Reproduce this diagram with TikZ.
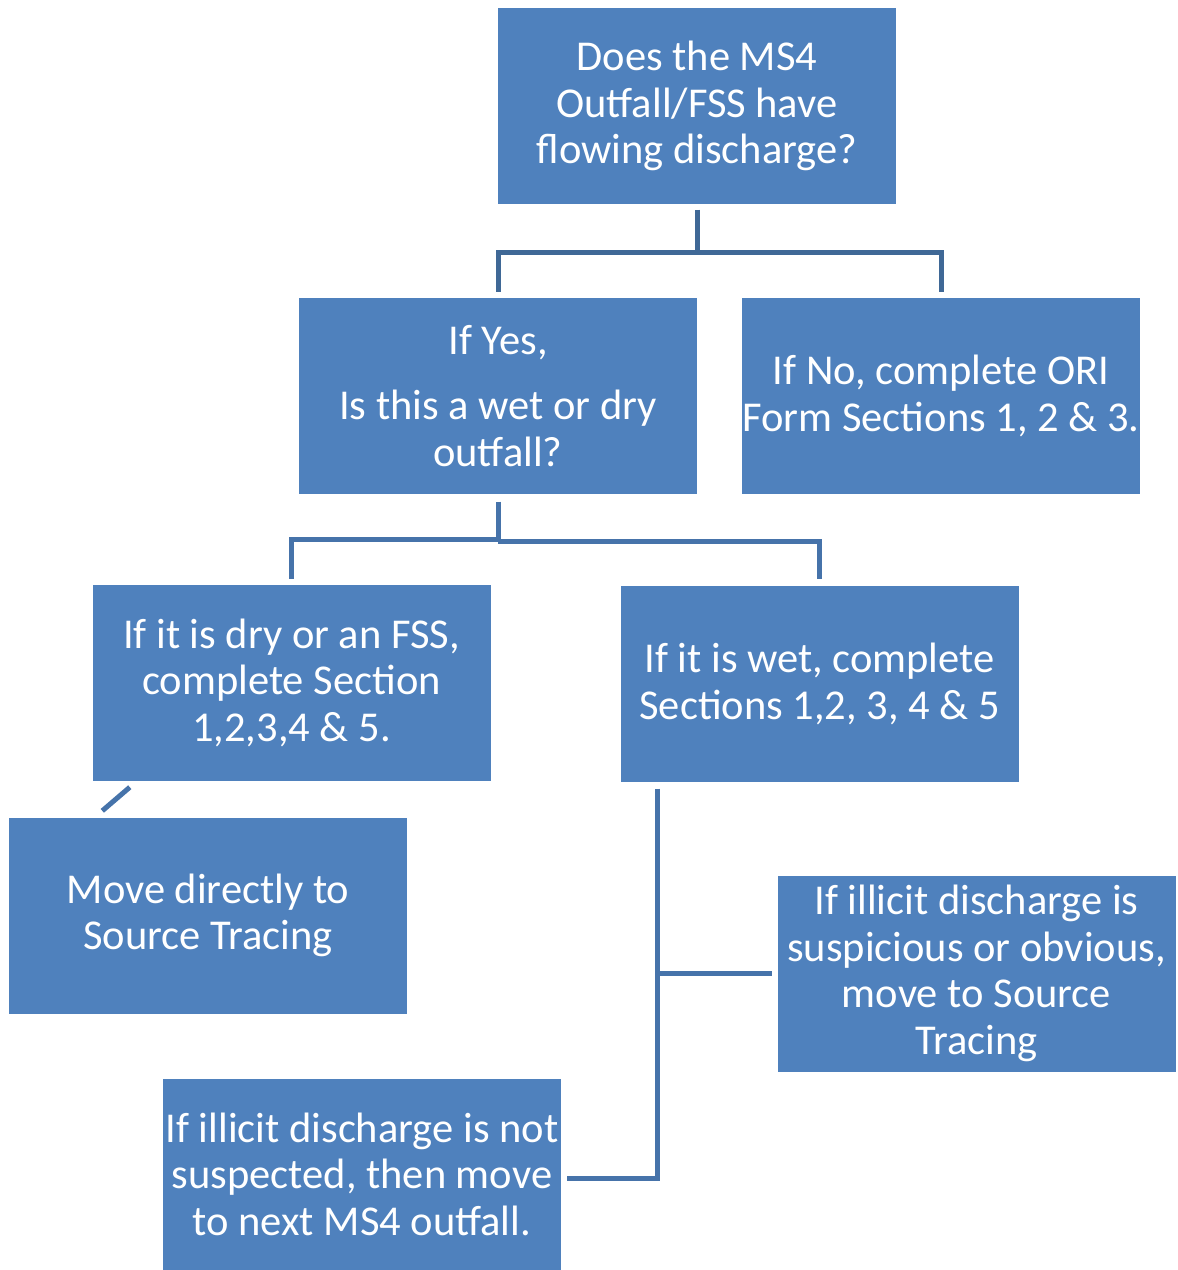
\documentclass[tikz,border=0pt]{standalone}
\usepackage{fontspec}
\setmainfont{Carlito}
\begin{document}
\begin{tikzpicture}[x=1pt,y=-1pt,
  box/.style={fill=boxblue,draw=boxblue,text=white,inner sep=0pt,align=center,
    font=\fontsize{42.5}{46.5}\selectfont,minimum width=397pt,minimum height=195pt},
  link/.style={draw=linkblue,line width=5pt},
  toplink/.style={draw=linkdark,line width=5pt}]
\definecolor{boxblue}{HTML}{4F81BD}
\definecolor{linkblue}{HTML}{4673AA}
\definecolor{linkdark}{HTML}{3F6896}
\useasboundingbox (0,0) rectangle (1178,1270);
\node[box] (top) at (697,106) {Does the MS4\\Outfall/FSS have\\flowing discharge?};
\node[box] (yes) at (498,396) {If Yes,\\[19pt]Is this a wet or dry\\outfall?};
\node[box] (no) at (941,396) {If No, complete ORI\\Form Sections 1, 2 \& 3.};
\node[box] (dry) at (291.5,682.5) {If it is dry or an FSS,\\complete Section\\1,2,3,4 \& 5.};
\node[box] (wet) at (819.5,684) {If it is wet, complete\\Sections 1,2, 3, 4 \& 5};
\node[box] (move) at (208,915.5) {Move directly to\\Source Tracing};
\node[box] (susp) at (976.5,973.5) {If illicit discharge is\\suspicious or obvious,\\move to Source\\Tracing};
\node[box,minimum height=190pt] (notsus) at (362,1174) {If illicit discharge is not\\suspected, then move\\to next MS4 outfall.};
% connectors
\draw[toplink,shorten <=6pt,shorten >=6pt] (top.south) -- ++(0,49) -| (yes.north);
\draw[toplink,shorten >=6pt] ([yshift=-49pt]top.south) -| (no.north);
\draw[link,shorten <=8pt,shorten >=6pt] (yes.south) -- ++(0,46) -| (dry.north);
\draw[link,shorten >=7pt] ([yshift=-48pt]yes.south) -| (wet.north);
\draw[link] ([xshift=37pt,yshift=-7pt]dry.south west) -- ([xshift=93pt,yshift=7pt]move.north west);
\coordinate (trunk) at ([xshift=37pt,yshift=-7pt]wet.south west);
\draw[link] (trunk) |- ([xshift=6pt,yshift=-4pt]notsus.east);
\draw[link] (susp.west -| trunk) -- ([xshift=-6pt]susp.west);
\end{tikzpicture}
\end{document}
